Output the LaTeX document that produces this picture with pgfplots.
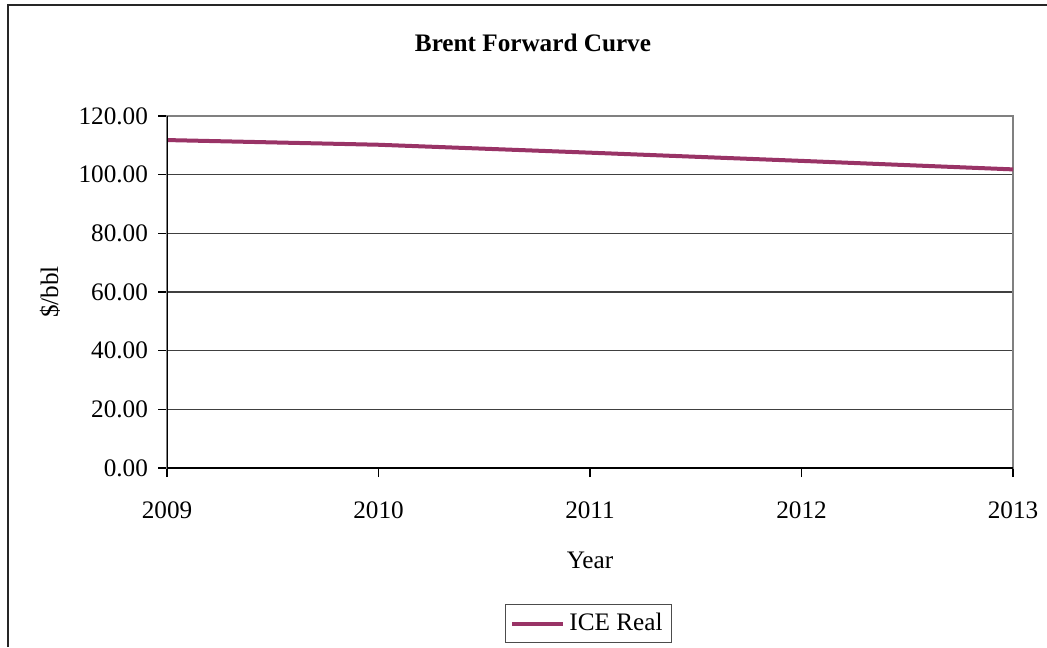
\documentclass[border=0pt]{standalone}
\usepackage{fontspec}
\setmainfont{Liberation Serif}
\usepackage{pgfplots}
\pgfplotsset{compat=1.18}
\definecolor{plum}{RGB}{153,51,102}
\begin{document}
\begin{tikzpicture}[font=\fontsize{12.6}{14}\selectfont]
\useasboundingbox (0,0) rectangle (523.5pt,-323.5pt);
% chart frame (left and top edges)
\draw[line width=0.8pt, black!85] (4pt,-323.5pt) -- (4pt,-2.5pt) -- (523.5pt,-2.5pt);
\begin{axis}[
  at={(83.5pt,-234pt)}, anchor=south west,
  scale only axis, width=423pt, height=176pt,
  xmin=2009, xmax=2013, ymin=0, ymax=120,
  xtick={2009,2010,2011,2012,2013},
  ytick={0,20,40,60,80,100,120},
  xtick pos=left, ytick pos=left,
  tick align=outside, major tick length=4.5pt,
  tick style={black, line width=0.6pt},
  axis line style={black!50, line width=0.8pt},
  ymajorgrids, major grid style={black!75, line width=0.6pt},
  /pgf/number format/assume math mode=true,
  xticklabel style={yshift=-9pt, /pgf/number format/1000 sep={}},
  yticklabel style={xshift=-1.5pt, /pgf/number format/.cd, fixed, fixed zerofill, precision=2},
  every axis title shift=0pt,
  title={\textbf{Brent Forward Curve}},
  title style={at={(axis description cs:0.4326,1.2074)}, anchor=center},
  xlabel={Year},
  xlabel style={at={(axis description cs:0.5,-0.2614)}, anchor=center},
  ylabel={\$/bbl},
  ylabel style={at={(axis description cs:-0.1383,0.5)}, anchor=center},
  legend style={at={(axis description cs:0.4982,-0.4418)}, anchor=center,
    draw=black!70, line width=0.6pt, inner xsep=2.5pt, inner ysep=2.5pt},
  legend cell align=left,
  legend image code/.code={\draw[#1, line width=2pt] (0pt,0pt) -- (25.5pt,0pt);},
]
\addplot[plum, line width=2pt] coordinates {
  (2009,111.8) (2010,110.2) (2011,107.5) (2012,104.7) (2013,101.8)
};
\addlegendentry{ICE Real}
% left and bottom axis lines in black
\draw[black, line width=0.8pt] (rel axis cs:0,1) -- (rel axis cs:0,0) -- (rel axis cs:1,0);
\end{axis}
\end{tikzpicture}
\end{document}
